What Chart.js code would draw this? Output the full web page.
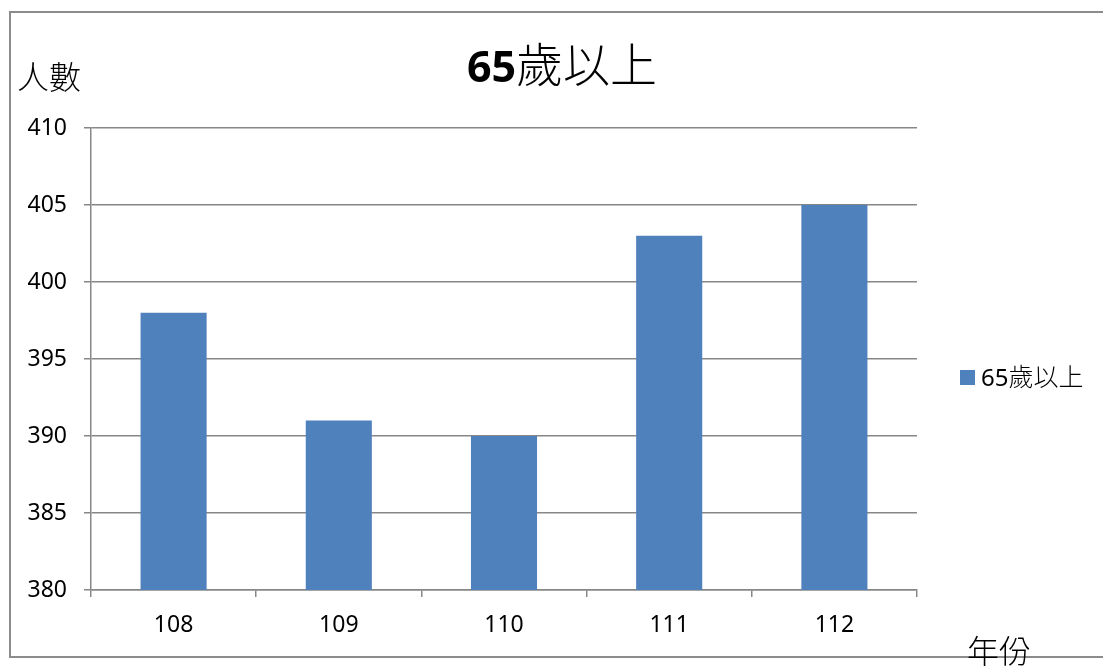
<!DOCTYPE html>
<html>
<head>
<meta charset="utf-8">
<script src="https://cdn.jsdelivr.net/npm/chart.js@4"></script>
<style>
  html, body { margin: 0; padding: 0; background: #fff; }
  #chart { display: block; }
</style>
</head>
<body>
<canvas id="chart" width="1103" height="666"></canvas>
<script>
// Chart data
const years = ['108', '109', '110', '111', '112'];
const counts = [398, 391, 390, 403, 405];
const seriesName = '65歲以上';
const yTicks = [380, 385, 390, 395, 400, 405, 410];

const barColor = '#4F81BD';
const gridColor = '#878787';
const latin = '"Noto Sans", "Open Sans", sans-serif';
const cjk = '"Noto Sans CJK TC", "Noto Sans CJK SC", sans-serif';

// Draws frame, title, axis names and legend around the plot
const decorations = {
    id: 'decorations',
    afterDraw(chart) {
        const ctx = chart.ctx;
        ctx.save();

        // outer frame
        ctx.strokeStyle = '#8c8c8c';
        ctx.lineWidth = 2;
        ctx.strokeRect(10, 12, 1110, 645);

        ctx.fillStyle = '#000';
        ctx.textBaseline = 'alphabetic';

        // title: bold digits, then CJK
        const digits = '65';
        const rest = '歲以上';
        ctx.font = 'bold 43px ' + latin;
        const w1 = ctx.measureText(digits).width;
        ctx.font = '300 47px ' + cjk;
        const w2 = ctx.measureText(rest).width;
        const x = 562 - (w1 + w2) / 2;
        ctx.font = 'bold 43px ' + latin;
        ctx.fillText(digits, x, 82);
        ctx.font = '300 47px ' + cjk;
        ctx.fillText(rest, x + w1, 82);

        // axis names
        ctx.font = '300 32px ' + cjk;
        ctx.fillText('人數', 17, 89);
        ctx.fillText('年份', 967, 663);

        // legend
        const ds = chart.data.datasets[0];
        ctx.fillStyle = ds.backgroundColor;
        ctx.fillRect(960, 370, 15, 15);
        ctx.fillStyle = '#000';
        ctx.font = '24px ' + latin;
        const d = '65';
        ctx.fillText(d, 981, 386);
        const dw = ctx.measureText(d).width;
        ctx.font = '300 25px ' + cjk;
        ctx.fillText(ds.label.slice(2), 981 + dw, 386);

        ctx.restore();
    }
};

new Chart(document.getElementById('chart'), {
    type: 'bar',
    data: {
        labels: years,
        datasets: [{
            label: seriesName,
            data: counts,
            backgroundColor: barColor,
            barPercentage: 0.4,
            categoryPercentage: 1.0
        }]
    },
    options: {
        responsive: false,
        animation: false,
        layout: {
            padding: { left: 0, right: 186, top: 128, bottom: 16 }
        },
        plugins: {
            legend: { display: false },
            title: { display: false },
            tooltip: { enabled: false }
        },
        scales: {
            x: {
                afterFit: s => { s.height = 60; },
                grid: {
                    drawOnChartArea: false,
                    drawTicks: true,
                    tickLength: 7,
                    color: gridColor,
                    lineWidth: 1.5
                },
                border: { display: true, color: gridColor, width: 1.5 },
                ticks: {
                    color: '#000',
                    padding: 15,
                    font: { family: latin, size: 23 }
                }
            },
            y: {
                min: yTicks[0],
                max: yTicks[yTicks.length - 1],
                afterFit: s => { s.width = 91; },
                afterBuildTicks: s => { s.ticks = yTicks.map(v => ({ value: v })); },
                grid: {
                    color: gridColor,
                    lineWidth: 1.5,
                    tickLength: 7
                },
                border: { display: true, color: gridColor, width: 1.5 },
                ticks: {
                    color: '#000',
                    padding: 17,
                    font: { family: latin, size: 23 }
                }
            }
        }
    },
    plugins: [decorations]
});
</script>
</body>
</html>
